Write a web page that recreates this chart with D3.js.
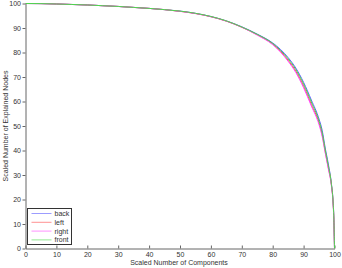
<!DOCTYPE html>
<html>
<head>
<meta charset="utf-8">
<script src="https://cdn.jsdelivr.net/npm/d3@7"></script>
<style>
	body { margin: 0; background: #fff; }
	svg text { font-family: "Liberation Sans", Arial, sans-serif; font-size: 7px; fill: #333; }
</style>
</head>
<body>
<div id="grafica"></div>
<script>
// valores
var componentes = [0, 5, 10, 15, 20, 25, 30, 35, 40, 45, 50, 55, 60, 65, 70, 75, 80, 82.5, 85, 87.5, 90, 92.5, 95, 96, 97, 98, 99, 99.5, 99.8, 100];
var back  = [100, 99.95, 99.8, 99.6, 99.4, 99.1, 98.8, 98.4, 98.0, 97.5, 96.9, 96.0, 94.7, 92.9, 90.5, 87.5, 83.9, 81.3, 77.9, 73.6, 67.8, 60.6, 52.8, 48.3, 41.0, 34.5, 26.5, 20, 12, 0];
var left  = [100, 99.95, 99.8, 99.6, 99.4, 99.1, 98.8, 98.4, 98.0, 97.5, 96.8, 95.9, 94.6, 92.8, 90.3, 87.2, 83.4, 80.5, 76.8, 72.3, 66.2, 58.8, 51.2, 46.5, 39.5, 33.0, 26.0, 19.5, 11.5, 0];
var right = [100, 99.95, 99.8, 99.6, 99.4, 99.1, 98.8, 98.4, 98.0, 97.5, 96.8, 95.9, 94.6, 92.8, 90.3, 87.1, 83.2, 80.2, 76.4, 71.8, 65.6, 58.2, 50.5, 45.8, 39.0, 32.5, 25.5, 19, 11, 0];
var front = [100, 99.95, 99.8, 99.6, 99.4, 99.1, 98.8, 98.4, 98.0, 97.5, 96.9, 96.0, 94.7, 92.9, 90.4, 87.4, 83.7, 80.9, 77.4, 73.0, 67.1, 59.8, 52.0, 47.3, 40.2, 33.8, 26.2, 19.8, 11.8, 0];
var nombres = ['back', 'left', 'right', 'front'];
var colores = ['#5a5aff', '#ff4a4a', '#ff4aff', '#4ad84a'];
var ticksX = [0, 10, 20, 30, 40, 50, 60, 70, 80, 90, 100];
var ticksY = [0, 10, 20, 30, 40, 50, 60, 70, 80, 90, 100];

var series = [back, left, right, front];

var wC = 342, hC = 268;
var m = {t: 3.5, r: 8, b: 20, l: 25.5};

var g = d3.select('#grafica').append('svg')
	.attr('width', wC)
	.attr('height', hC);

var x = d3.scaleLinear().domain([0, 100]).range([m.l, 334.5]);
var y = d3.scaleLinear().domain([0, 100]).range([248.5, m.t]);

// ejes
var ejeX = g.append('g')
	.attr('transform', 'translate(0,' + y(0) + ')')
	.call(d3.axisBottom(x).tickValues(ticksX).tickSizeInner(-3).tickSizeOuter(0).tickPadding(4));
var ejeY = g.append('g')
	.attr('transform', 'translate(' + x(0) + ',0)')
	.call(d3.axisLeft(y).tickValues(ticksY).tickSizeInner(3).tickSizeOuter(0).tickPadding(1.5));

g.selectAll('.domain, .tick line').attr('stroke', '#666');
g.selectAll('.tick text').style('font-size', '7px').attr('fill', '#333');

// curvas
var linea = d3.line()
	.x(function(d, i) { return x(componentes[i]); })
	.y(function(d) { return y(d); })
	.curve(d3.curveMonotoneX);

g.selectAll('.serie').data(series)
	.enter().append('path')
	.attr('class', 'serie')
	.attr('fill', 'none')
	.attr('stroke', function(d, i) { return colores[i]; })
	.attr('stroke-width', 1)
	.attr('d', linea);

// titulos
g.append('text')
	.attr('x', 179)
	.attr('y', 265)
	.attr('text-anchor', 'middle')
	.text('Scaled Number of Components');
g.append('text')
	.attr('transform', 'translate(8,' + ((y(0) + y(100)) / 2) + ') rotate(-90)')
	.attr('text-anchor', 'middle')
	.text('Scaled Number of Explained Nodes');

// leyenda
var ley = g.append('g').attr('transform', 'translate(27.5,208.5)');
ley.append('rect')
	.attr('width', 44)
	.attr('height', 36)
	.attr('fill', '#fff')
	.attr('stroke', '#333');
var fila = ley.selectAll('.fila').data(nombres)
	.enter().append('g')
	.attr('transform', function(d, i) { return 'translate(0,' + (5 + i * 8.8) + ')'; });
fila.append('line')
	.attr('x1', 4).attr('x2', 24)
	.attr('stroke', function(d, i) { return colores[i]; })
	.attr('stroke-opacity', 0.6);
fila.append('text')
	.attr('x', 27)
	.attr('y', 2.5)
	.text(function(d) { return d; });
</script>
</body>
</html>
